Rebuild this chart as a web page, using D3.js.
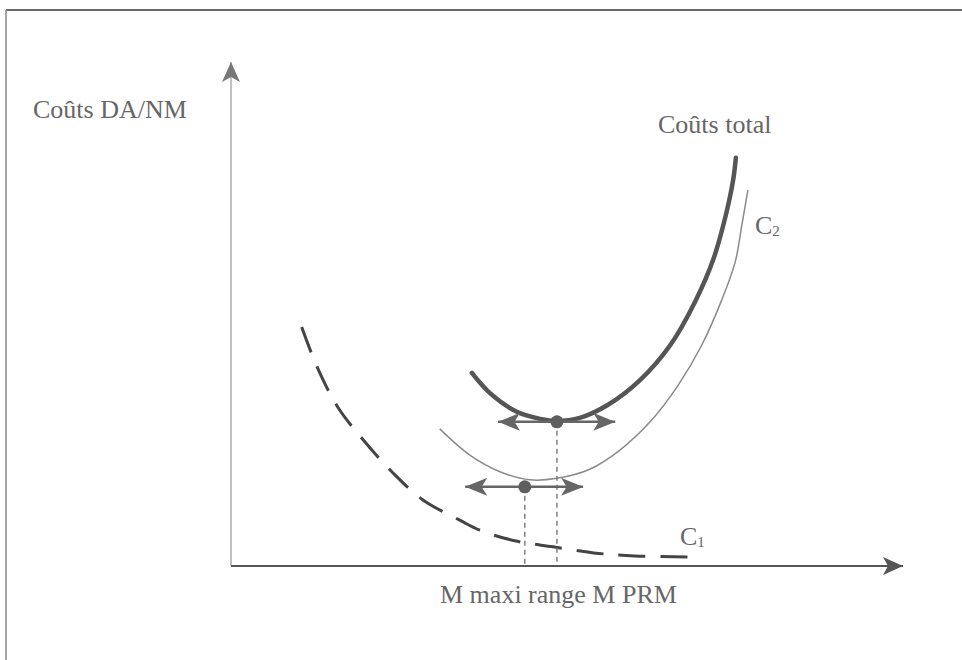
<!DOCTYPE html>
<html>
<head>
<meta charset="utf-8">
<script src="https://cdn.jsdelivr.net/npm/d3@7"></script>
<style>
  html, body { margin: 0; padding: 0; background: #fff; }
  svg { display: block; }
  text { font-family: "Liberation Serif", "Times New Roman", serif; fill: #666; }
</style>
</head>
<body>
<svg id="chart" width="962" height="660"></svg>
<script>
// ---- data (arbitrary units 0..100) ----
const totalCost = [[35.8,38.3],[38.5,34.3],[42.5,30.6],[46.0,29.2],[48.5,28.8],[51.9,29.4],[56.0,31.9],[60.9,36.9],[65.4,43.8],[69.1,52.4],[71.8,60.7],[73.7,69.6],[74.8,76.6],[75.2,81.0]];
const costC2 = [[31.0,27.2],[35.5,22.0],[40.0,18.7],[44.5,17.1],[48.5,17.4],[53.4,19.2],[57.9,23.0],[62.4,28.6],[66.6,35.9],[70.1,43.8],[73.1,52.8],[75.1,60.3],[76.1,67.7],[77.0,74.6]];
const costC1 = [[10.4,47.4],[12.7,39.5],[15.8,31.5],[19.6,25.0],[24.0,18.5],[28.5,13.1],[34.0,9.1],[37.0,7.1],[42.2,5.0],[47.9,3.8],[54.0,2.6],[60.1,2.0],[68.1,1.8]];
const optimumX = [48.5, 43.7];
const optimumY = [28.6, 15.7];
const rangeLeft = [39.7, 34.8];
const rangeRight = [57.2, 52.4];
const axisTitleY = "Coûts DA/NM";
const axisTitleX = "M maxi range M PRM";
const curveNames = ["Coûts total", "C", "C"];
const curveSubs = ["", "2", "1"];

// ---- drawing ----
const svg = d3.select("#chart");
const x = d3.scaleLinear().domain([0, 100]).range([232, 902]);
const y = d3.scaleLinear().domain([0, 100]).range([566, 62]);

const defs = svg.append("defs");
function marker(id, len, half, color) {
  defs.append("marker")
    .attr("id", id)
    .attr("viewBox", `0 ${-half} ${len} ${2*half}`)
    .attr("refX", len).attr("refY", 0)
    .attr("markerUnits", "userSpaceOnUse")
    .attr("markerWidth", len).attr("markerHeight", 2*half)
    .attr("orient", "auto-start-reverse")
    .append("path")
    .attr("d", `M0,${-half}L${len},0L0,${half}L${len*0.25},0Z`)
    .attr("fill", color);
}
marker("axisHeadX", 20, 9, "#555");
marker("axisHeadY", 20, 9, "#777");
marker("rangeHead", 22, 9, "#666");

// frame
svg.append("line").attr("x1", 6).attr("y1", 10).attr("x2", 962).attr("y2", 10)
  .attr("stroke", "#6a6a6a").attr("stroke-width", 2.2);
svg.append("line").attr("x1", 6).attr("y1", 10).attr("x2", 6).attr("y2", 660)
  .attr("stroke", "#888").attr("stroke-width", 1.5);

// axes
svg.append("line")
  .attr("x1", x(0) - 1).attr("y1", y(0)).attr("x2", x(0) - 1).attr("y2", y(100))
  .attr("stroke", "#a0a0a0").attr("stroke-width", 1.3)
  .attr("marker-end", "url(#axisHeadY)");
svg.append("line")
  .attr("x1", x(0) - 1).attr("y1", y(0)).attr("x2", x(100) + 1).attr("y2", y(0))
  .attr("stroke", "#555").attr("stroke-width", 2)
  .attr("marker-end", "url(#axisHeadX)");

const line = d3.line().x(d => x(d[0])).y(d => y(d[1])).curve(d3.curveCatmullRom.alpha(0.5));

// curves
svg.append("path").datum(costC1).attr("d", line)
  .attr("fill", "none").attr("stroke", "#444").attr("stroke-width", 3)
  .attr("stroke-dasharray", "27,15");
svg.append("path").datum(costC2).attr("d", line)
  .attr("fill", "none").attr("stroke", "#8a8a8a").attr("stroke-width", 1.5);
svg.append("path").datum(totalCost).attr("d", line)
  .attr("fill", "none").attr("stroke", "#555").attr("stroke-width", 4.5)
  .attr("stroke-linecap", "round");

// optimum drop lines
optimumX.forEach((ox, i) => {
  svg.append("line")
    .attr("x1", x(ox)).attr("y1", y(optimumY[i])).attr("x2", x(ox)).attr("y2", y(0))
    .attr("stroke", "#777").attr("stroke-width", 1.4).attr("stroke-dasharray", "5,4");
});
// range arrows
optimumX.forEach((ox, i) => {
  svg.append("line")
    .attr("x1", x(rangeLeft[i])).attr("y1", y(optimumY[i]))
    .attr("x2", x(rangeRight[i])).attr("y2", y(optimumY[i]))
    .attr("stroke", "#666").attr("stroke-width", 2.5)
    .attr("marker-start", "url(#rangeHead)").attr("marker-end", "url(#rangeHead)");
  svg.append("circle").attr("cx", x(ox)).attr("cy", y(optimumY[i])).attr("r", 6.5)
    .attr("fill", "#5e5e5e");
});

// texts
svg.append("text").attr("x", 33).attr("y", 118).attr("font-size", 26).text(axisTitleY);
svg.append("text").attr("x", 440).attr("y", 603).attr("font-size", 26).text(axisTitleX);

const labelPos = [[658, 133], [755, 234], [680, 545]];
curveNames.forEach((name, i) => {
  const t = svg.append("text").attr("x", labelPos[i][0]).attr("y", labelPos[i][1]).attr("font-size", 26);
  t.append("tspan").text(name);
  if (curveSubs[i]) t.append("tspan").attr("font-size", 15).attr("dy", 2).text(curveSubs[i]);
});
</script>
</body>
</html>
